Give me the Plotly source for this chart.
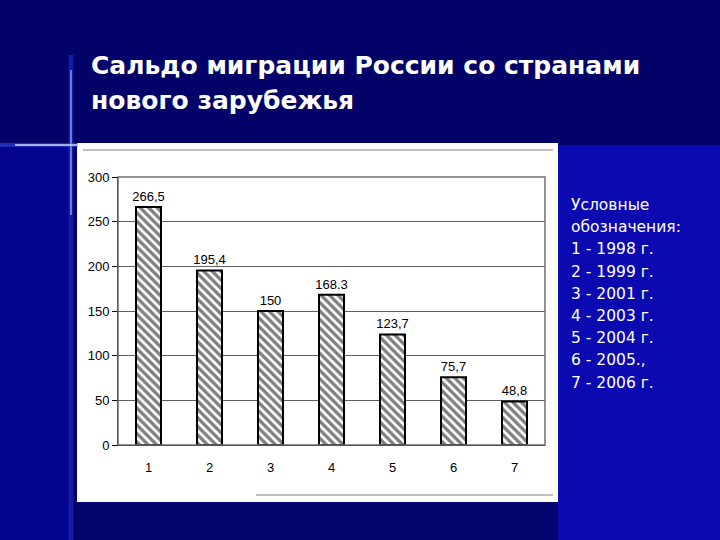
import plotly.graph_objects as go

categories = ["1", "2", "3", "4", "5", "6", "7"]
values = [266.5, 195.4, 150, 168.3, 123.7, 75.7, 48.8]
value_labels = ["266,5", "195,4", "150", "168.3", "123,7", "75,7", "48,8"]
y_ticks = [0, 50, 100, 150, 200, 250, 300]
title_lines = ["Сальдо миграции России со странами", "нового зарубежья"]
legend_lines = ["Условные", "обозначения:", "1 - 1998 г.", "2 - 1999 г.", "3 - 2001 г.",
                "4 - 2003 г.", "5 - 2004 г.", "6 - 2005.,", "7 - 2006 г."]

W, H = 720, 540
def px(x):
    return x / W
def py(y):
    return 1 - y / H

NARROW = "Liberation Sans Narrow, Arial Narrow, Liberation Sans, Arial"

fig = go.Figure()
fig.add_trace(go.Bar(
    x=categories, y=values, text=value_labels, textposition="outside",
    constraintext="none",
    textfont=dict(family=NARROW, size=13, color="black"),
    cliponaxis=False,
    width=0.41,
    marker=dict(color="white", line=dict(color="black", width=2),
                pattern=dict(shape="\\", fgcolor="black", bgcolor="white", size=6, solidity=0.55)),
))

shapes = []
# background pieces
shapes.append(dict(type="rect", xref="paper", yref="paper", x0=0, x1=1, y0=0, y1=1,
                   fillcolor="#020268", line_width=0, layer="below"))
shapes.append(dict(type="rect", xref="paper", yref="paper", x0=px(558), x1=1, y0=0, y1=py(145),
                   fillcolor="#0a0ab0", line_width=0, layer="below"))
shapes.append(dict(type="rect", xref="paper", yref="paper", x0=0, x1=px(70), y0=0, y1=py(147),
                   fillcolor="#04048c", line_width=0, layer="below"))
shapes.append(dict(type="rect", xref="paper", yref="paper", x0=px(77), x1=px(558), y0=0, y1=py(502),
                   fillcolor="#04046e", line_width=0, layer="below"))
# white panel
shapes.append(dict(type="rect", xref="paper", yref="paper", x0=px(77), x1=px(558), y0=py(502), y1=py(143),
                   fillcolor="white", line_width=0, layer="below"))
shapes.append(dict(type="line", xref="paper", yref="paper", x0=px(83), x1=px(553), y0=py(150), y1=py(150),
                   line=dict(color="#808080", width=1)))
shapes.append(dict(type="line", xref="paper", yref="paper", x0=px(256), x1=px(553), y0=py(495), y1=py(495),
                   line=dict(color="#808080", width=1)))
# decorative cross
shapes.append(dict(type="line", xref="paper", yref="paper", x0=px(71), x1=px(71), y0=0, y1=py(55),
                   line=dict(color="rgba(40,60,230,0.45)", width=5)))
shapes.append(dict(type="line", xref="paper", yref="paper", x0=px(71), x1=px(71), y0=py(215), y1=py(70),
                   line=dict(color="rgba(200,215,255,0.85)", width=1.2)))
shapes.append(dict(type="line", xref="paper", yref="paper", x0=0, x1=px(78), y0=py(145), y1=py(145),
                   line=dict(color="rgba(60,90,255,0.5)", width=4)))
shapes.append(dict(type="line", xref="paper", yref="paper", x0=px(15), x1=px(78), y0=py(145), y1=py(145),
                   line=dict(color="rgba(220,230,255,0.95)", width=1.5)))
# plot area border
shapes.append(dict(type="rect", xref="paper", yref="paper", x0=px(118), x1=px(545), y0=py(445), y1=py(177),
                   line=dict(color="#707070", width=1.5), fillcolor="rgba(0,0,0,0)"))

annotations = []
for i, line in enumerate(title_lines):
    annotations.append(dict(text="<b>" + line + "</b>", xref="paper", yref="paper",
                            x=px(89), y=py(49 + i * 35), xanchor="left", yanchor="top", showarrow=False,
                            font=dict(family="DejaVu Sans, Verdana", size=25, color="white")))
for i, line in enumerate(legend_lines):
    annotations.append(dict(text=line, xref="paper", yref="paper",
                            x=px(569), y=py(205 + i * 22.2), xanchor="left", yanchor="middle",
                            align="left", showarrow=False,
                            font=dict(family="DejaVu Sans, Verdana", size=15.5, color="white")))

fig.update_layout(
    width=W, height=H, margin=dict(l=0, r=0, t=0, b=0, autoexpand=False),
    paper_bgcolor="#020268", plot_bgcolor="#c0c0c0",
    showlegend=False, shapes=shapes, annotations=annotations,
    xaxis=dict(domain=[px(118), px(545)], showgrid=False, showline=True, linecolor="black", linewidth=1,
               automargin=False,
               ticks="", tickfont=dict(family=NARROW, size=13, color="black"),
               ticklabelstandoff=10),
    yaxis=dict(domain=[py(445), py(177)], range=[0, 300], tickvals=y_ticks, showgrid=True,
               automargin=False,
               gridcolor="#606060", gridwidth=1, showline=True, linecolor="black", linewidth=1,
               ticks="outside", ticklen=5, tickcolor="black", zeroline=False,
               tickfont=dict(family=NARROW, size=13, color="black")),
)

fig.write_html("out.html", config={"displayModeBar": False},
               post_script="document.body.style.margin='0';document.body.style.padding='0';document.body.style.overflow='hidden';")
